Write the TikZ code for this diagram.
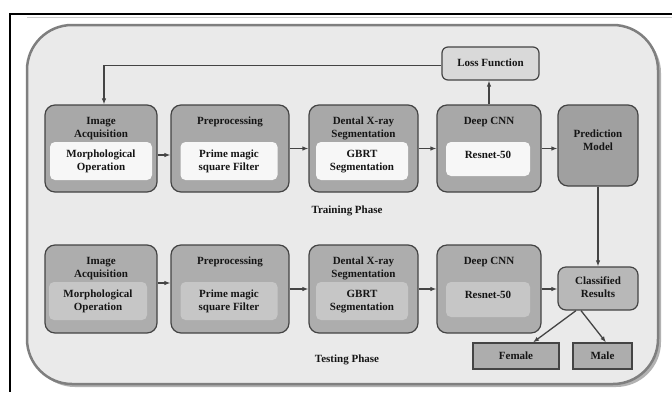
\documentclass[tikz,border=0pt]{standalone}
\usepackage{fontspec}
\setmainfont{Liberation Serif}
\usetikzlibrary{arrows.meta,calc}
\definecolor{panelfill}{HTML}{EAEAEA}
\definecolor{panelline}{HTML}{7F7F7F}
\definecolor{stagefill}{HTML}{A8A8A8}
\definecolor{stagefillb}{HTML}{ADADAD}
\definecolor{innerb}{HTML}{C6C6C6}
\definecolor{boxline}{HTML}{444444}
\definecolor{lossfill}{HTML}{D9D9D9}
\definecolor{clasfill}{HTML}{B8B8B8}
\definecolor{txt}{HTML}{151515}
\tikzset{
  stage/.style={draw=boxline, line width=1.2pt, rounded corners=10pt, fill=stagefill},
  stageb/.style={stage, fill=stagefillb},
  innerw/.style={fill=white!97!black, rounded corners=5pt},
  innerg/.style={fill=innerb, rounded corners=5pt},
  lbl/.style={text=txt, font=\fontsize{11}{13}\selectfont\bfseries, align=center, inner sep=0pt},
  arr/.style={draw=boxline, line width=1.3pt, -{Latex[length=6pt,width=4.5pt]}},
  plain/.style={draw=boxline, line width=1pt}
}
\begin{document}
\begin{tikzpicture}[x=1pt,y=-1pt]
\useasboundingbox (0,0) rectangle (672,392);
\fill[white] (0,0) rectangle (672,392);
% outer frame
\draw[black, line width=1.2pt] (672,14) -- (10,14) -- (10,392);
\draw[gray!40, line width=0.8pt] (27,17) -- (672,17);
% panel
\fill[gray!60, rounded corners=45pt] (30,28) rectangle (661,387);
\draw[panelline, line width=2.5pt, fill=panelfill, rounded corners=45pt] (27,25) rectangle (658,384);

% ---- top row
\node[stage, minimum width=112pt, minimum height=87pt] (acq1) at (101,148.5) {};
\node[stage, minimum width=118pt, minimum height=87pt] (pre1) at (230,148.5) {};
\node[stage, minimum width=109pt, minimum height=87pt] (seg1) at (363.5,148.5) {};
\node[stage, minimum width=104pt, minimum height=87pt] (cnn1) at (489,148.5) {};
\node[stage, fill=stagefill!95!black, minimum width=80pt, minimum height=81pt] (pred) at (598,145.5) {};
\node[stage, fill=lossfill, rounded corners=6pt, minimum width=97pt, minimum height=33pt] (loss) at (490.5,63.5) {};

\node[innerw, minimum width=102pt, minimum height=38pt] (acq1i) at (101,161) {};
\node[innerw, minimum width=97pt, minimum height=38pt] (pre1i) at (229,161) {};
\node[innerw, minimum width=92pt, minimum height=38pt] (seg1i) at (362,161) {};
\node[innerw, minimum width=84pt, minimum height=34pt] (cnn1i) at (488,159) {};

\node[lbl] (t1) at (101,128.5) {Image\\Acquisition};
\node[lbl] (t2) at (230,122) {Preprocessing};
\node[lbl] (t3) at (363.5,128.5) {Dental X-ray\\Segmentation};
\node[lbl] (t4) at (489,122) {Deep CNN};
\node[lbl] (i1) at (101,161.5) {Morphological\\Operation};
\node[lbl] (i2) at (229,161.5) {Prime magic\\square Filter};
\node[lbl] (i3) at (362,161.5) {GBRT\\Segmentation};
\node[lbl] (i4) at (488,154.5) {Resnet-50};
\node[lbl] (tp) at (598,140) {Prediction\\Model};
\node[lbl] (tl) at (490.5,63) {Loss Function};
\node[lbl] (train) at (347,211) {Training Phase};

% ---- bottom row
\node[stageb, minimum width=112pt, minimum height=88pt] (acq2) at (101,289) {};
\node[stageb, minimum width=118pt, minimum height=88pt] (pre2) at (230,289) {};
\node[stageb, minimum width=109pt, minimum height=88pt] (seg2) at (363.5,289) {};
\node[stageb, minimum width=104pt, minimum height=88pt] (cnn2) at (489,289) {};
\node[stage, fill=clasfill, rounded corners=8pt, minimum width=80pt, minimum height=43pt] (clas) at (598,288.5) {};
\node[draw=boxline, line width=1.2pt, fill=stagefillb, minimum width=86pt, minimum height=26pt] (female) at (516,356) {};
\node[draw=boxline, line width=1.2pt, fill=stagefillb, minimum width=59pt, minimum height=26pt] (male) at (602.5,356) {};

\node[innerg, minimum width=98pt, minimum height=38pt] (acq2i) at (98,301) {};
\node[innerg, minimum width=97pt, minimum height=38pt] (pre2i) at (229,301) {};
\node[innerg, minimum width=92pt, minimum height=38pt] (seg2i) at (362,301) {};
\node[innerg, minimum width=84pt, minimum height=35pt] (cnn2i) at (488,299.5) {};

\node[lbl] (b1) at (101,268.5) {Image\\Acquisition};
\node[lbl] (b2) at (230,262) {Preprocessing};
\node[lbl] (b3) at (363.5,268.5) {Dental X-ray\\Segmentation};
\node[lbl] (b4) at (489,262) {Deep CNN};
\node[lbl] (j1) at (98,301.5) {Morphological\\Operation};
\node[lbl] (j2) at (229,301.5) {Prime magic\\square Filter};
\node[lbl] (j3) at (362,301.5) {GBRT\\Segmentation};
\node[lbl] (j4) at (488,294.5) {Resnet-50};
\node[lbl] (tc) at (598,287) {Classified\\Results};
\node[lbl] (tf) at (516,356) {Female};
\node[lbl] (tm) at (602.5,356) {Male};
\node[lbl] (test) at (347,360) {Testing Phase};

% ---- connectors top
\draw[arr] ([yshift=-6.5pt]acq1.east) -- ([yshift=-6.5pt]pre1.west);
\draw[arr] (pre1.east) -- (seg1.west);
\draw[arr] (seg1.east) -- (cnn1.west);
\draw[arr] (cnn1.east) -- (cnn1.east -| pred.west);
\draw[arr] (cnn1.north) -- (cnn1.north |- loss.south);
\draw[arr] ([yshift=-2pt]loss.west) -| ([xshift=3pt]acq1.north);
\draw[arr] (pred.south) -- (clas.north);
% ---- connectors bottom
\draw[arr] ([yshift=6pt]acq2.east) -- ([yshift=6pt]pre2.west);
\draw[arr] (pre2.east) -- (seg2.west);
\draw[arr] (seg2.east) -- (cnn2.west);
\draw[arr] (cnn2.east) -- (cnn2.east -| clas.west);
\draw[arr] ([xshift=-22pt]clas.south) -- ([xshift=17pt]female.north);
\draw[arr] ([xshift=-17pt]clas.south) -- ([xshift=3.5pt]male.north);
\end{tikzpicture}
\end{document}
